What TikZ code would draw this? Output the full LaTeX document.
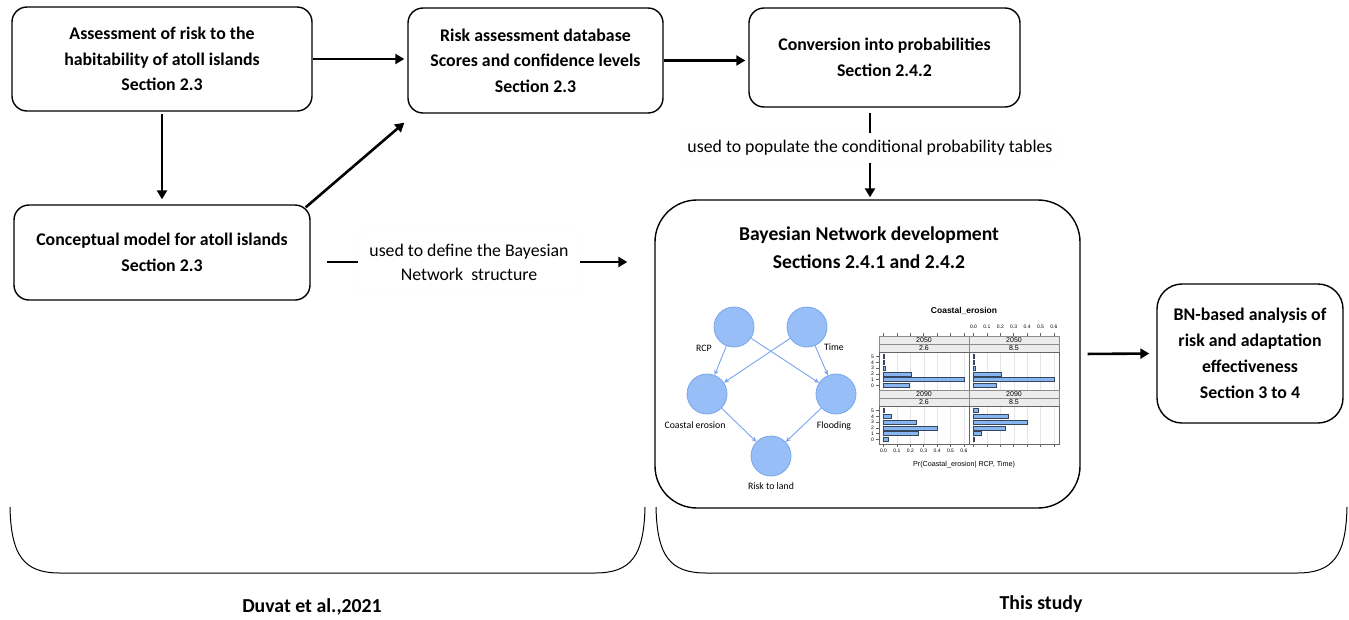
\documentclass[tikz,border=0pt]{standalone}
\usepackage{fontspec}
\setmainfont{Carlito}
\newfontfamily\plotfont{Liberation Sans}
\usetikzlibrary{arrows.meta,positioning,calc}

\definecolor{nodeblue}{RGB}{151,190,246}
\definecolor{nodeedge}{RGB}{120,165,235}
\definecolor{barblue}{RGB}{135,181,240}
\definecolor{bardark}{RGB}{55,70,95}
\definecolor{stripgray}{RGB}{236,236,236}

\begin{document}
\begin{tikzpicture}[
  x=1pt, y=-1pt,
  >={Triangle[length=9pt,width=10pt]},
  font=\fontsize{17.8}{24}\selectfont,
  box/.style={draw,line width=1.4pt,rounded corners=15pt,align=center,
    font=\fontsize{17.8}{25.5}\selectfont\bfseries},
  note/.style={draw=black!3,rounded corners=8pt,align=center},
  arr/.style={->,line width=2.6pt},
  seg/.style={line width=2.6pt},
  brk/.style={line width=1pt},
  foot/.style={font=\fontsize{19.8}{22}\selectfont\bfseries},
  bn/.style={circle,draw=nodeedge,fill=nodeblue,minimum size=40pt,inner sep=0pt,line width=0.8pt},
  bnlab/.style={font=\fontsize{9.8}{11}\selectfont,inner sep=1pt},
  bnlink/.style={-{Stealth[length=5pt,width=4.5pt]},draw=nodeedge,line width=0.9pt},
  bar/.style={draw=bardark,fill=barblue,line width=0.5pt},
  strip/.style={draw=black!45,fill=stripgray,line width=0.4pt},
  frame/.style={draw=black!60,line width=0.5pt},
  tiny/.style={font=\plotfont\fontsize{5}{6}\selectfont,inner sep=0pt},
  striplab/.style={font=\plotfont\fontsize{7}{8}\selectfont,inner sep=0pt},
]
  \useasboundingbox (0,0) rectangle (1349,619);

  % boxes of the earlier work
  \node[box,minimum width=300pt,minimum height=104pt] (assess) at (162,59)
    {Assessment of risk to the\\habitability of atoll islands\\Section 2.3};
  \node[box,minimum width=255pt,minimum height=105pt] (riskdb) at (535.5,60.5)
    {Risk assessment database\\Scores and confidence levels\\Section 2.3};
  \node[box,minimum width=271pt,minimum height=99pt] (conv) at (884.5,57.5)
    {Conversion into probabilities\\Section 2.4.2};
  \node[box,minimum width=296pt,minimum height=95pt] (concept) at (162,252.5)
    {Conceptual model for atoll islands\\Section 2.3};

  % boxes of this study
  \node[box,rounded corners=42pt,minimum width=425pt,minimum height=308pt] (bnbox) at (867.5,354) {};
  \node[font=\fontsize{19.6}{28}\selectfont\bfseries,align=center] (bntitle) at (869,248)
    {Bayesian Network development\\Sections 2.4.1 and 2.4.2};
  \node[box,rounded corners=25pt,minimum width=186pt,minimum height=139pt,
    font=\fontsize{17.8}{26}\selectfont\bfseries] (analysis) at (1250,353.5)
    {BN-based analysis of\\risk and adaptation\\effectiveness\\Section 3 to 4};

  % notes on the connectors
  \node[note,minimum width=222pt,minimum height=62pt] (defnote) at (469,262)
    {used to define the Bayesian\\Network\ \ structure};
  \node[note,minimum width=376pt,minimum height=30pt] (popnote) at (870,148)
    {used to populate the conditional probability tables};

  % connectors
  \draw[arr,shorten >=3pt] (assess.east) -- (assess.east -| riskdb.west);
  \draw[arr,shorten >=3pt] (riskdb.east) -- (riskdb.east -| conv.west);
  \draw[arr,shorten <=2pt,shorten >=5pt] (assess) -- (concept);
  \draw[arr] ($(concept.north east)+(-5,3)$) -- ($(riskdb.south west)+(-3,9)$);
  \draw[seg,shorten <=16pt] (concept.east |- defnote) -- (defnote.west);
  \draw[arr,shorten >=27pt] (defnote.east) -- (defnote.east -| bnbox.west);
  \draw[seg,shorten <=5pt] (conv.south -| popnote) -- (popnote.north);
  \draw[arr,shorten >=2pt] (popnote.south) -- (popnote.south |- bnbox.north);
  \draw[arr,shorten <=7pt,shorten >=7pt] (bnbox.east) -- (analysis.west);

  % small network
  \node[bn] (rcp) at (734,327) {};
  \node[bn] (time) at (807,327) {};
  \node[bn] (ero) at (707,394) {};
  \node[bn] (flood) at (836,394) {};
  \node[bn] (risk) at (771,456) {};
  \node[bnlab] (rcplab) at (704,348) {RCP};
  \node[bnlab] (timelab) at (834,347) {Time};
  \node[bnlab,below=6pt of ero,xshift=-12pt] (erolab) {Coastal erosion};
  \node[bnlab,below=6pt of flood,xshift=-2pt] (floodlab) {Flooding};
  \node[bnlab,below=5pt of risk] (risklab) {Risk to land};
  \draw[bnlink] (rcp) -- (ero);
  \draw[bnlink] (rcp) -- (flood);
  \draw[bnlink] (time) -- (ero);
  \draw[bnlink] (time) -- (flood);
  \draw[bnlink] (ero) -- (risk);
  \draw[bnlink] (flood) -- (risk);

  % conditional probability plot
  \node[font=\plotfont\fontsize{8.5}{9}\selectfont\bfseries] (plottitle) at (964,311) {Coastal\_erosion};
  \node[font=\plotfont\fontsize{7.2}{8}\selectfont] (plotaxis) at (964,465) {Pr(Coastal\_erosion| RCP, Time)};
  \foreach \px/\py/\yr/\rc/\vals [count=\k] in {
      879/336/2050/2.6/{0.19,0.60,0.21,0.015,0.002,0.002},
      969/336/2050/8.5/{0.17,0.60,0.21,0.015,0.002,0.002},
      879/390/2090/2.6/{0.035,0.26,0.40,0.245,0.06,0.002},
      969/390/2090/8.5/{0.002,0.055,0.24,0.40,0.26,0.035}}{
    \draw[strip] (\px,\py) rectangle ++(90,8);
    \draw[strip] (\px,\py+8) rectangle ++(90,8);
    \node[striplab] (yr\k) at (\px+45,\py+4) {\yr};
    \node[striplab] (rc\k) at (\px+45,\py+12) {\rc};
    \foreach \t in {0,...,6}
      \draw[black!10,line width=0.3pt] (\px+4.5+13.4*\t,\py+16) -- ++(0,38);
    \foreach \v [count=\lv from 0] in \vals
      \draw[bar] (\px+4.5,\py+47.5-5.8*\lv) rectangle ++(134*\v,4);
    \draw[frame] (\px,\py+16) rectangle ++(90,38);
  }
  % axes of the plot
  \foreach \px in {879,969}
    \foreach \t in {0,...,6}{
      \draw[frame] (\px+4.5+13.4*\t,336) -- ++(0,-3);
      \draw[frame] (\px+4.5+13.4*\t,444) -- ++(0,3);
    }
  \foreach \t in {0,...,6}{
    \node[tiny] (toplab\t) at (973.5+13.4*\t,327) {0.\t};
    \node[tiny] (botlab\t) at (883.5+13.4*\t,451) {0.\t};
  }
  \foreach \py in {336,390}
    \foreach \lv in {0,...,5}{
      \draw[frame] (879,\py+49.5-5.8*\lv) -- ++(-3,0);
      \node[tiny] (lev\py\lv) at (872.5,\py+49.5-5.8*\lv) {\lv};
    }

  % braces under the two parts
  \draw[brk] (10,507) .. controls (11,556) and (24,573) .. (60,573) -- (595,573)
    .. controls (631,573) and (644,556) .. (645,507);
  \draw[brk] (656,507) .. controls (657,556) and (670,573) .. (706,573) -- (1297,573)
    .. controls (1333,573) and (1346,556) .. (1347,507);
  \node[foot] (duvat) at (312,607) {Duvat et al.,2021};
  \node[foot] (thisstudy) at (1041,604) {This study};
\end{tikzpicture}
\end{document}
